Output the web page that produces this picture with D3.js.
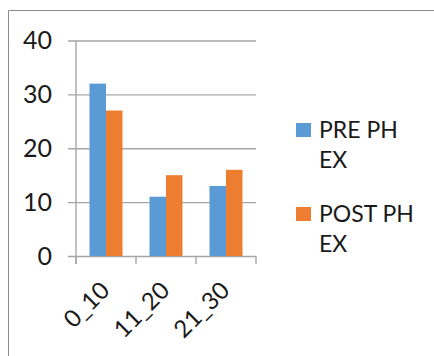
<!DOCTYPE html>
<html>
<head>
<meta charset="utf-8">
<script src="https://cdn.jsdelivr.net/npm/d3@7"></script>
<style>
  html, body { margin: 0; padding: 0; background: #fff; }
  svg { display: block; }
  text { font-family: "Lato", "Open Sans", sans-serif; fill: #1a1a1a; }
</style>
</head>
<body>
<svg id="chart" width="434" height="356"></svg>
<script>
const categories = ["0_10", "11_20", "21_30"];
const seriesNames = ["PRE PH EX", "POST PH EX"];
const legendLines = [["PRE PH", "EX"], ["POST PH", "EX"]];
const preValues = [32, 11, 13];
const postValues = [27, 15, 16];
const yTicks = [0, 10, 20, 30, 40];
const colors = ["#5B9BD5", "#ED7D31"];

const svg = d3.select("#chart");

// outer frame (only top and left edges fall inside the view)
svg.append("path")
  .attr("d", "M8.5,360 V10.5 H440")
  .attr("fill", "none")
  .attr("stroke", "#8c8c8c")
  .attr("stroke-width", 1);

const plot = { left: 76, right: 256, top: 40.5, bottom: 256 };

const x = d3.scaleBand()
  .domain(categories)
  .range([plot.left, plot.right])
  .paddingInner(0.45)
  .paddingOuter(0.225);

const xOuter = d3.scaleBand().domain(categories).range([plot.left, plot.right]);

const y = d3.scaleLinear().domain([0, 40]).range([plot.bottom, plot.top]);

const xSub = d3.scaleBand().domain(seriesNames).range([0, x.bandwidth()]);

// gridlines + y labels
const yAxis = d3.axisLeft(y).tickValues(yTicks).tickSize(-(plot.right - plot.left)).tickPadding(16);
const gy = svg.append("g").attr("transform", `translate(${plot.left},0)`).call(yAxis);
gy.select(".domain").remove();
gy.selectAll(".tick line").attr("stroke", "#a6a6a6").attr("stroke-width", 1.4).attr("x1", -8);
gy.selectAll(".tick text").attr("font-size", 25).attr("fill", "#1a1a1a")
  .attr("font-family", "Lato, sans-serif").attr("x", -24);

// vertical axis line
svg.append("line")
  .attr("x1", plot.left).attr("x2", plot.left)
  .attr("y1", plot.top).attr("y2", plot.bottom + 8)
  .attr("stroke", "#a6a6a6").attr("stroke-width", 1.4);

// category tick marks on baseline
const xAxis = d3.axisBottom(xOuter).tickSize(0).tickFormat("");
const gx = svg.append("g").attr("transform", `translate(0,${plot.bottom})`).call(xAxis);
gx.select(".domain").remove();
const tickPos = categories.map(c => xOuter(c)).concat([plot.right]);
gx.selectAll(".sep").data(tickPos).join("line")
  .attr("class", "sep")
  .attr("x1", d => d).attr("x2", d => d)
  .attr("y1", 0).attr("y2", 8)
  .attr("stroke", "#a6a6a6").attr("stroke-width", 1.4);

// bars
const rows = categories.map((c, i) => ({ cat: c, vals: [preValues[i], postValues[i]] }));
const groups = svg.append("g").selectAll("g").data(rows).join("g")
  .attr("transform", d => `translate(${x(d.cat)},0)`);
groups.selectAll("rect").data(d => d.vals.map((v, k) => ({ v, k })))
  .join("rect")
  .attr("x", d => xSub(seriesNames[d.k]))
  .attr("width", xSub.bandwidth())
  .attr("y", d => y(d.v))
  .attr("height", d => y(0) - y(d.v))
  .attr("fill", d => colors[d.k]);

// rotated category labels
svg.append("g").selectAll("text").data(categories).join("text")
  .attr("transform", c => `translate(${xOuter(c) + xOuter.bandwidth() / 2 + 5},${plot.bottom + 36}) rotate(-45)`)
  .attr("text-anchor", "end")
  .attr("font-size", 24)
  .text(c => c);

// legend
const legend = svg.append("g");
const legendY = [122, 206];
seriesNames.forEach((s, i) => {
  legend.append("rect")
    .attr("x", 296).attr("y", legendY[i] + 1)
    .attr("width", 15).attr("height", 14)
    .attr("fill", colors[i]);
  legend.append("text")
    .attr("x", 319).attr("y", legendY[i] + 16)
    .attr("font-size", 23)
    .selectAll("tspan").data(legendLines[i]).join("tspan")
    .attr("x", 319).attr("dy", (d, j) => j === 0 ? 0 : 30)
    .text(d => d);
});
</script>
</body>
</html>
